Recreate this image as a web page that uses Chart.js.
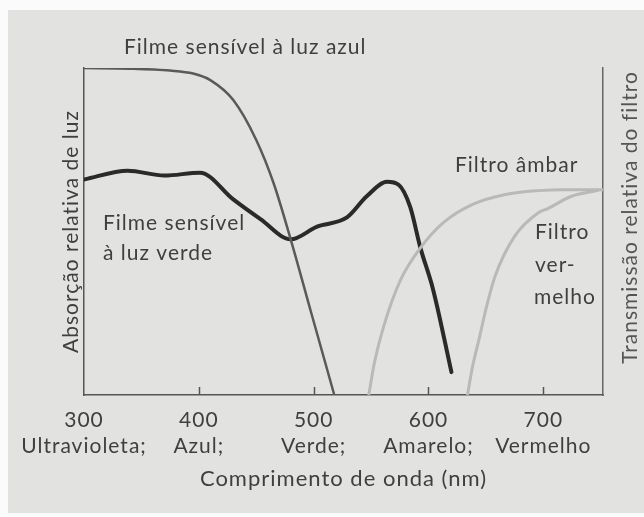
<!DOCTYPE html>
<html>
<head>
<meta charset="utf-8">
<script src="https://cdn.jsdelivr.net/npm/chart.js@4.4.1/dist/chart.umd.min.js"></script>
<style>
  html, body { margin: 0; padding: 0; background: #ffffff; }
  #wrap { width: 644px; height: 517px; }
</style>
</head>
<body>
<div id="wrap"><canvas id="c" width="644" height="517"></canvas></div>
<script>
// ---- Data ----
const wavelengthTicks = [300, 400, 500, 600, 700];
const bandNames = ['Ultravioleta;', 'Azul;', 'Verde;', 'Amarelo;', 'Vermelho'];

// Filme sensível à luz azul (relative absorption)
const blueNm  = [300, 340, 375, 395, 410, 430, 450, 465, 480, 498, 518];
const blueVal = [1.0, 0.998, 0.992, 0.983, 0.963, 0.902, 0.78, 0.649, 0.476, 0.25, 0];

// Filme sensível à luz verde (relative absorption)
const greenNm  = [300, 338, 370, 401, 430, 454, 480, 503, 529, 546, 564, 574, 584, 593, 604, 620];
const greenVal = [0.659, 0.686, 0.671, 0.680, 0.598, 0.537, 0.476, 0.515, 0.543, 0.607, 0.652, 0.643, 0.576, 0.45, 0.323, 0.07];

// Filtro âmbar (relative transmission)
const amberNm  = [548, 553, 561, 576, 593, 613, 638, 667, 696, 718, 752];
const amberVal = [0, 0.1, 0.21, 0.354, 0.45, 0.527, 0.582, 0.613, 0.625, 0.628, 0.628];

// Filtro vermelho (relative transmission)
const redNm  = [634, 638, 644, 650, 658, 675, 696, 704, 724, 747];
const redVal = [0, 0.08, 0.17, 0.262, 0.363, 0.485, 0.558, 0.57, 0.607, 0.625];

const pts = (xs, ys) => xs.map((x, i) => ({ x: x, y: ys[i] }));

const FONT = 'Lato, "Open Sans", sans-serif';
const TXT = '#3f3f3f';
const SPACING = '1px';

// Curve annotations (pixel text placement)
const notes = [
  { text: 'Filme sensível à luz azul', x: 124, y: 47 },
  { text: 'Filme sensível', x: 103, y: 223 },
  { text: 'à luz verde', x: 103, y: 253 },
  { text: 'Filtro âmbar', x: 455, y: 165 },
  { text: 'Filtro', x: 535, y: 232 },
  { text: 'ver-', x: 535, y: 265 },
  { text: 'melho', x: 534, y: 297 }
];

const paperPlugin = {
  id: 'paper',
  beforeDraw(chart) {
    const ctx = chart.ctx;
    ctx.save();
    ctx.fillStyle = '#fbfbfb';
    ctx.fillRect(0, 0, chart.width, chart.height);
    ctx.fillStyle = '#e2e2e0';
    ctx.fillRect(8, 10, chart.width - 8, 503);
    ctx.restore();
    ctx.letterSpacing = SPACING;
  }
};

const decorPlugin = {
  id: 'decor',
  afterDraw(chart) {
    const ctx = chart.ctx;
    const xs = chart.scales.x;
    const area = chart.chartArea;
    ctx.save();
    ctx.letterSpacing = SPACING;
    // inward tick marks
    ctx.strokeStyle = '#555';
    ctx.lineWidth = 1.5;
    wavelengthTicks.forEach((v, i) => {
      if (i === 0) return;
      const px = Math.round(xs.getPixelForValue(v)) + 0.5;
      ctx.beginPath();
      ctx.moveTo(px, area.bottom);
      ctx.lineTo(px, area.bottom - 8);
      ctx.stroke();
    });
    // annotations
    ctx.fillStyle = TXT;
    ctx.font = '21px ' + FONT;
    ctx.textBaseline = 'middle';
    ctx.textAlign = 'left';
    notes.forEach(n => ctx.fillText(n.text, n.x, n.y));
    // right axis title (reads bottom to top)
    ctx.translate(630, (area.top + area.bottom) / 2 - 14);
    ctx.rotate(-Math.PI / 2);
    ctx.textAlign = 'center';
    ctx.fillStyle = '#555';
    ctx.fillText('Transmissão relativa do filtro', 0, 0);
    ctx.restore();
  }
};

const lineDs = (label, data, color, width) => ({
  label: label,
  data: data,
  borderColor: color,
  borderWidth: width,
  pointRadius: 0,
  fill: false,
  cubicInterpolationMode: 'monotone',
  borderCapStyle: 'round',
  borderJoinStyle: 'round'
});

new Chart(document.getElementById('c'), {
  type: 'line',
  data: {
    datasets: [
      lineDs('Filtro âmbar', pts(amberNm, amberVal), '#b9b9b7', 3),
      lineDs('Filtro vermelho', pts(redNm, redVal), '#b9b9b7', 3),
      lineDs('Filme sensível à luz azul', pts(blueNm, blueVal), '#5a5a5a', 2.5),
      lineDs('Filme sensível à luz verde', pts(greenNm, greenVal), '#2a2a2a', 4)
    ]
  },
  options: {
    responsive: false,
    animation: false,
    layout: { padding: { top: 68, left: 0, right: 0, bottom: 0 } },
    plugins: { legend: { display: false }, tooltip: { enabled: false } },
    scales: {
      x: {
        type: 'linear',
        position: 'bottom',
        min: 300,
        max: 752,
        afterBuildTicks: s => { s.ticks = wavelengthTicks.map(v => ({ value: v })); },
        afterFit: s => { s.height = 122; },
        grid: { display: false, drawTicks: false },
        border: { display: true, color: '#555', width: 1.5 },
        ticks: {
          autoSkip: false,
          maxRotation: 0,
          padding: 13,
          color: TXT,
          font: { family: FONT, size: 21, lineHeight: 1.2 },
          callback: (v) => {
            const i = wavelengthTicks.indexOf(v);
            return i < 0 ? '' : [String(v), bandNames[i]];
          }
        },
        title: {
          display: true,
          text: 'Comprimento de onda (nm)',
          color: TXT,
          font: { family: FONT, size: 22, lineHeight: 1.2 },
          padding: { top: 0, bottom: 25 }
        }
      },
      y: {
        position: 'left',
        min: 0,
        max: 1,
        afterFit: s => { s.width = 84; },
        grid: { display: false, drawTicks: false },
        border: { display: true, color: '#555', width: 1.5 },
        ticks: { display: false },
        title: {
          display: true,
          text: 'Absorção relativa de luz',
          color: TXT,
          font: { family: FONT, size: 21, lineHeight: 1.2 },
          padding: { top: 59, bottom: 0 }
        }
      },
      y2: {
        position: 'right',
        min: 0,
        max: 1,
        afterFit: s => { s.width = 41; },
        grid: { display: false, drawTicks: false },
        border: { display: true, color: '#666', width: 1.5 },
        ticks: { display: false }
      }
    }
  },
  plugins: [paperPlugin, decorPlugin]
});
</script>
</body>
</html>
